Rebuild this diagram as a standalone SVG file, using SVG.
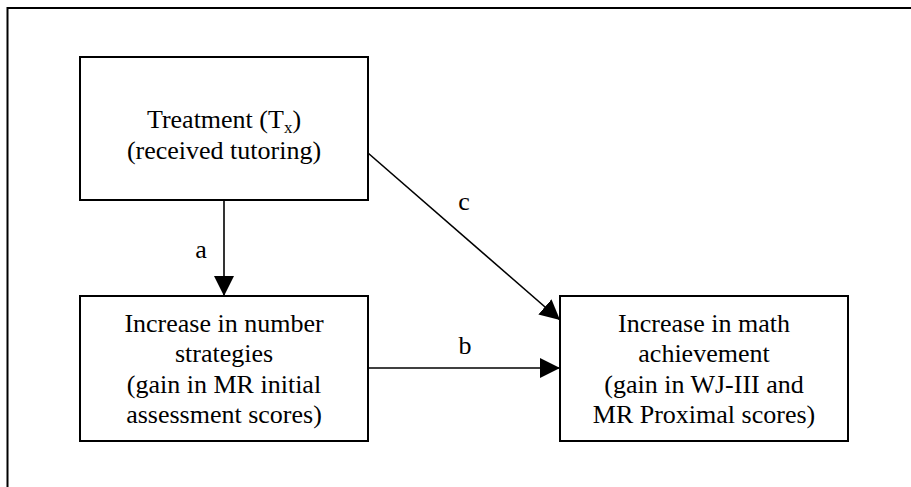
<svg xmlns="http://www.w3.org/2000/svg" width="911" height="487" viewBox="0 0 911 487">
  <style>
    .box { fill: #ffffff; stroke: #000000; stroke-width: 2; }
    .txt { font-family: "Liberation Serif", "Times New Roman", serif; font-size: 26px; fill: #000000; text-anchor: middle; }
    .lbl { font-family: "Liberation Serif", "Times New Roman", serif; font-size: 26px; fill: #000000; text-anchor: middle; }
    .edge { stroke: #000000; stroke-width: 1.6; fill: none; }
    .frame { stroke: #000000; stroke-width: 2; fill: none; }
  </style>
  <defs>
    <marker id="arrow" markerUnits="userSpaceOnUse" markerWidth="20" markerHeight="20" refX="20" refY="10" orient="auto">
      <path d="M0,0 L20,10 L0,20 Z" fill="#000000"/>
    </marker>
  </defs>
  <rect width="911" height="487" fill="#ffffff"/>
  <polyline class="frame" points="7.5,487 7.5,8 911,8"/>

  <g id="connectors">
    <line id="edge-a" class="edge" x1="224" y1="200" x2="224" y2="296" marker-end="url(#arrow)"/>
    <line id="edge-b" class="edge" x1="368" y1="368" x2="560" y2="368" marker-end="url(#arrow)"/>
    <line id="edge-c" class="edge" x1="368" y1="153" x2="560" y2="320" marker-end="url(#arrow)"/>
    <text class="lbl" x="201" y="258">a</text>
    <text class="lbl" x="465" y="354">b</text>
    <text class="lbl" x="464" y="210">c</text>
  </g>

  <g id="node-treatment">
    <rect class="box" x="80" y="57" width="288" height="143"/>
    <text class="txt" x="224" y="128">Treatment (T<tspan font-size="17" dy="5">x</tspan><tspan dy="-5">)</tspan></text>
    <text class="txt" x="224" y="159">(received tutoring)</text>
  </g>

  <g id="node-strategies">
    <rect class="box" x="80" y="296" width="288" height="145"/>
    <text class="txt" x="224" y="331.5">Increase in number</text>
    <text class="txt" x="224" y="362">strategies</text>
    <text class="txt" x="224" y="392.5">(gain in MR initial</text>
    <text class="txt" x="224" y="423">assessment scores)</text>
  </g>

  <g id="node-achievement">
    <rect class="box" x="560" y="296" width="288" height="145"/>
    <text class="txt" x="704" y="331.5">Increase in math</text>
    <text class="txt" x="704" y="362">achievement</text>
    <text class="txt" x="704" y="392.5">(gain in WJ-III and</text>
    <text class="txt" x="704" y="423">MR Proximal scores)</text>
  </g>
</svg>
